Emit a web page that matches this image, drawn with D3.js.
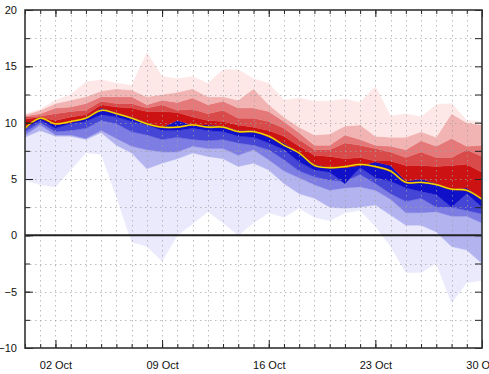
<!DOCTYPE html>
<html>
<head>
<meta charset="utf-8">
<script src="https://cdn.jsdelivr.net/npm/d3@7"></script>
<style>
  body { margin: 0; background: #fff; }
  svg { display: block; font-family: Arial, "Liberation Sans", sans-serif; }
</style>
</head>
<body>
<svg class="chart"></svg>
<script>
// ensemble spread, 30 Sep .. 30 Oct (one value per day)
var startDay = "2023-09-30";
var nDays = 31;
var labelDays = ["02 Oct", "09 Oct", "16 Oct", "23 Oct", "30 Oct"];
var yTicks = [-10, -5, 0, 5, 10, 15, 20];

var pMin = [4.9, 4.5, 4.3, 5.8, 7.3, 7.2, 3.4, -0.6, -1.0, -2.3, 0.0, 1.0, 2.1, 1.1, 0.0, 1.1, 2.0, 1.6, 2.4, 1.6, 1.3, 2.0, 2.2, 0.8, -1.0, -3.3, -3.3, -2.5, -6.0, -4.2, -4.0];
var p10 = [8.7, 9.3, 8.8, 8.8, 8.5, 9.1, 8.0, 7.3, 5.9, 6.4, 6.8, 7.3, 7.0, 6.8, 6.1, 6.4, 5.8, 4.6, 3.7, 3.3, 2.5, 2.4, 2.5, 2.7, 1.8, 0.9, 0.9, 0.3, -1.0, -1.3, -2.5];
var p20 = [8.9, 9.8, 8.9, 8.9, 8.6, 9.3, 8.6, 7.9, 7.6, 7.4, 7.4, 7.9, 7.7, 7.7, 7.1, 7.6, 6.7, 5.7, 5.1, 4.5, 4.0, 4.2, 4.3, 4.0, 3.2, 2.0, 2.0, 2.1, 1.7, 1.7, 1.1];
var p30 = [9.2, 10.0, 9.2, 9.3, 9.5, 10.2, 9.9, 9.2, 8.9, 8.5, 8.7, 8.5, 8.4, 8.5, 8.2, 8.0, 7.6, 6.7, 5.7, 5.2, 4.9, 4.8, 5.4, 4.6, 3.7, 3.0, 3.3, 2.5, 2.5, 2.2, 1.9];
var p40 = [9.5, 10.2, 9.5, 9.9, 10.1, 10.7, 10.5, 10.1, 9.8, 9.3, 9.3, 9.5, 9.3, 9.2, 8.8, 8.7, 8.2, 7.6, 6.5, 5.8, 5.6, 4.6, 6.0, 5.1, 4.8, 4.2, 3.9, 3.6, 2.5, 3.7, 2.5];
var p50 = [9.6, 10.4, 9.8, 10.0, 10.5, 11.3, 10.9, 10.5, 10.0, 9.6, 10.2, 9.8, 9.8, 9.7, 9.3, 9.3, 8.7, 8.2, 7.3, 6.3, 6.0, 6.0, 6.2, 6.5, 6.2, 4.8, 5.0, 4.6, 4.1, 4.2, 3.3];
var p60 = [10.3, 10.5, 10.2, 10.5, 10.7, 11.6, 11.4, 11.3, 11.0, 11.0, 10.9, 10.5, 10.2, 10.1, 9.8, 9.6, 9.3, 8.8, 7.9, 7.1, 7.0, 6.8, 6.9, 6.6, 6.6, 6.2, 6.2, 6.1, 6.2, 6.3, 5.6];
var p70 = [10.5, 10.6, 10.8, 11.0, 11.1, 11.9, 11.7, 11.7, 11.3, 11.6, 11.1, 11.2, 10.8, 11.1, 10.4, 10.4, 10.1, 9.5, 8.5, 7.6, 7.6, 8.2, 8.0, 7.7, 7.4, 6.9, 7.4, 6.9, 6.9, 7.6, 7.0];
var p80 = [10.6, 10.8, 11.3, 11.4, 11.7, 12.3, 12.3, 12.3, 11.6, 12.0, 11.8, 12.2, 11.6, 11.9, 11.3, 11.3, 11.0, 10.1, 9.1, 8.0, 8.0, 8.9, 8.5, 8.0, 7.9, 7.6, 8.4, 7.9, 8.6, 7.9, 8.0];
var p90 = [10.7, 11.1, 11.7, 12.0, 12.3, 12.8, 13.0, 12.9, 12.3, 12.5, 12.7, 13.0, 12.3, 12.3, 12.0, 13.0, 11.6, 10.5, 9.6, 8.9, 9.0, 9.7, 9.8, 8.8, 8.7, 8.7, 9.2, 8.7, 10.8, 10.0, 9.8];
var pMax = [10.8, 11.2, 12.0, 12.5, 13.6, 13.8, 13.5, 13.3, 16.2, 14.1, 13.9, 14.1, 13.5, 14.7, 14.7, 13.9, 13.5, 12.0, 12.2, 11.9, 11.9, 12.1, 11.8, 13.2, 10.6, 10.8, 10.5, 11.6, 11.7, 10.2, 10.1];
var centre = [9.5, 10.4, 9.9, 10.1, 10.4, 11.1, 10.8, 10.4, 9.9, 9.6, 9.6, 9.8, 9.6, 9.6, 9.2, 9.2, 8.8, 8.0, 7.3, 6.2, 6.0, 6.1, 6.3, 6.1, 5.7, 4.7, 4.7, 4.5, 4.1, 4.0, 3.2];

var bandColors = ["#eaeafc", "#b3b3f0", "#7d7de4", "#4646d6", "#1010c8",
                  "#cc1212", "#d94a4a", "#e57878", "#f2b3b3", "#fde7e7"];

var W = 489, H = 374;
var margin = {top: 10, right: 7, bottom: 26, left: 25};

var t0 = d3.utcParse("%Y-%m-%d")(startDay);
var days = d3.range(nDays).map(function(i) { return d3.utcDay.offset(t0, i); });
var parseLabel = d3.utcParse("%d %b %Y");
var labelDates = labelDays.map(function(s) { return parseLabel(s + " 2023"); });

var x = d3.scaleUtc()
    .domain([days[0], days[nDays - 1]])
    .range([margin.left, W - margin.right]);
var y = d3.scaleLinear()
    .domain([-10, 20])
    .range([H - margin.bottom, margin.top]);

var svg = d3.select(".chart").attr("width", W).attr("height", H);

var quantiles = [pMin, p10, p20, p30, p40, p50, p60, p70, p80, p90, pMax];

// bands between neighbouring quantiles
var area = d3.area()
    .x(function(d, i) { return x(days[i]); })
    .y0(function(d) { return y(d[0]); })
    .y1(function(d) { return y(d[1]); });

var bands = d3.range(quantiles.length - 1).map(function(k) {
    return quantiles[k].map(function(v, i) { return [v, quantiles[k + 1][i]]; });
});

svg.append("g").selectAll("path.band")
    .data(bands)
    .enter()
    .append("path")
    .attr("class", "band")
    .attr("fill", function(d, k) { return bandColors[k]; })
    .attr("stroke", function(d, k) { return bandColors[k]; })
    .attr("stroke-width", 0.4)
    .attr("d", area);

// dotted grid on top
var grid = svg.append("g")
    .attr("stroke", "#a0a0a0")
    .attr("stroke-opacity", 0.7)
    .attr("stroke-dasharray", "1.5,3.5");

grid.selectAll("line.v")
    .data(days.slice(1, -1))
    .enter()
    .append("line")
    .attr("x1", function(d) { return Math.round(x(d)) + 0.5; })
    .attr("x2", function(d) { return Math.round(x(d)) + 0.5; })
    .attr("y1", y(20))
    .attr("y2", y(-10));

grid.selectAll("line.h")
    .data(d3.range(-7.5, 20, 2.5).filter(function(v) { return v !== 0; }))
    .enter()
    .append("line")
    .attr("x1", x.range()[0])
    .attr("x2", x.range()[1])
    .attr("y1", function(d) { return Math.round(y(d)) + 0.5; })
    .attr("y2", function(d) { return Math.round(y(d)) + 0.5; });

// zero line
svg.append("line")
    .attr("x1", x.range()[0]).attr("x2", x.range()[1])
    .attr("y1", y(0)).attr("y2", y(0))
    .attr("stroke", "#222").attr("stroke-width", 2);

// centre line
var line = d3.line()
    .x(function(d, i) { return x(days[i]); })
    .y(function(d) { return y(d); })
    .curve(d3.curveCatmullRom);

svg.append("path")
    .datum(centre)
    .attr("fill", "none")
    .attr("stroke", "#d08c00")
    .attr("stroke-width", 1.8)
    .attr("d", line);
svg.append("path")
    .datum(centre)
    .attr("fill", "none")
    .attr("stroke", "#ffee00")
    .attr("stroke-width", 0.9)
    .attr("d", line);

// ticks
var minorY = d3.range(-10, 20.1, 2.5);

function styleAxis(g) {
    g.select(".domain").remove();
    g.selectAll(".tick line").attr("stroke", "#222");
    g.selectAll("text").attr("font-size", 11).attr("fill", "#111")
        .attr("font-family", "Arial, 'Liberation Sans', sans-serif");
}

svg.append("g")
    .attr("transform", "translate(0," + y(-10) + ")")
    .call(d3.axisBottom(x).tickValues(days).tickSize(-4).tickFormat(""))
    .call(styleAxis);
var xLab = svg.append("g")
    .attr("transform", "translate(0," + y(-10) + ")")
    .call(d3.axisBottom(x).tickValues(labelDates).tickSize(-8).tickPadding(13)
        .tickFormat(d3.utcFormat("%d %b")))
    .call(styleAxis);
// axis puts text at tickSize+padding, so push labels below the axis
xLab.selectAll(".tick text").attr("y", 13);

svg.append("g")
    .attr("transform", "translate(0," + y(20) + ")")
    .call(d3.axisTop(x).tickValues(days).tickSize(-4).tickFormat(""))
    .call(styleAxis);
svg.append("g")
    .attr("transform", "translate(0," + y(20) + ")")
    .call(d3.axisTop(x).tickValues(labelDates).tickSize(-7).tickFormat(""))
    .call(styleAxis);

svg.append("g")
    .attr("transform", "translate(" + x.range()[0] + ",0)")
    .call(d3.axisLeft(y).tickValues(minorY).tickSize(-5).tickFormat(""))
    .call(styleAxis);
svg.append("g")
    .attr("transform", "translate(" + x.range()[0] + ",0)")
    .call(d3.axisLeft(y).tickValues(yTicks).tickSize(-8).tickPadding(8))
    .call(styleAxis)
    .selectAll("text").attr("x", -8);

svg.append("g")
    .attr("transform", "translate(" + x.range()[1] + ",0)")
    .call(d3.axisRight(y).tickValues(minorY).tickSize(-7).tickFormat(""))
    .call(styleAxis);

// frame
svg.append("rect")
    .attr("x", x.range()[0])
    .attr("y", y(20))
    .attr("width", x.range()[1] - x.range()[0])
    .attr("height", y(-10) - y(20))
    .attr("fill", "none")
    .attr("stroke", "#333")
    .attr("stroke-width", 1.6);
</script>
</body>
</html>
